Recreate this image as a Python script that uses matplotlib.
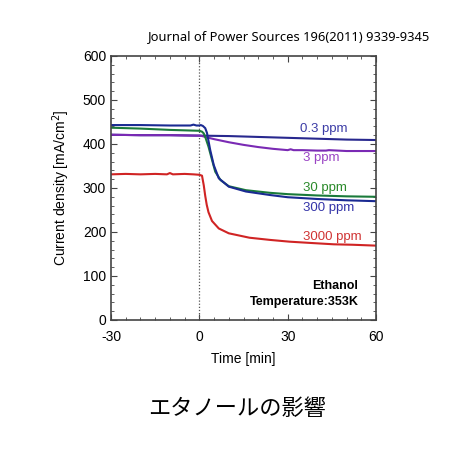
import matplotlib
matplotlib.use("Agg")
import matplotlib.pyplot as plt
from matplotlib.ticker import MultipleLocator

plt.rcParams["font.family"] = ["Liberation Sans", "DejaVu Sans"]
plt.rcParams["axes.unicode_minus"] = False

# 0.3 ppm
t_03 = [-30, -20, -10, 0, 10, 20, 30, 40, 50, 60]
j_03 = [421, 420, 420, 419, 418, 416, 414, 412, 410, 409]

# 3 ppm
t_3 = [-30, -20, -10, -2, 0, 1, 2, 5, 10, 15, 20, 25, 30, 31, 32, 35, 40, 43, 44, 50, 55, 60]
j_3 = [421, 420, 420, 419, 419, 418, 416, 411, 404, 398, 393, 389, 386, 388, 386, 386, 385, 385, 386, 384, 384, 384]

# 30 ppm
t_30 = [-30, -20, -10, 0, 0.9, 1.5, 2, 2.5, 3.1, 4.3, 5.4, 7.2, 10, 15.8, 24, 30, 40, 50, 60]
j_30 = [437, 435, 432, 430, 428, 424, 416, 406, 394, 364, 337, 318, 304, 295, 289, 286, 283, 281, 280]

# 300 ppm
t_300 = [-30, -20, -10, -3, -2, -1, 0, 0.5, 1.2, 2, 2.6, 3.7, 4.9, 6.6, 10, 15.8, 24, 30, 40, 50, 60]
j_300 = [443, 443, 442, 442, 444, 442, 442, 443, 441, 436, 425, 386, 352, 322, 303, 292, 284, 279, 275, 272, 270]

# 3000 ppm
t_3000 = [-30, -25, -20, -15, -11, -10, -9, -5, -2, 0, 0.9, 1.5, 2, 2.5, 3.1, 4.3, 6.6, 10, 17, 24, 30.6, 38, 45.7, 52, 60]
j_3000 = [331, 332, 331, 332, 331, 334, 331, 332, 331, 330, 328, 306, 282, 262, 245, 225, 208, 197, 187, 182, 178, 175, 172, 171, 169]

series = [
    ("0.3 ppm", t_03, j_03, "#28288e", "#3c3ca6", (42.3, 434)),
    ("3 ppm", t_3, j_3, "#7a2ab4", "#9a44c4", (41.3, 368)),
    ("30 ppm", t_30, j_30, "#1a7a3a", "#2a8a2a", (42.6, 300)),
    ("300 ppm", t_300, j_300, "#1a2a92", "#3434a8", (44.0, 255)),
    ("3000 ppm", t_3000, j_3000, "#d02424", "#d03434", (45.0, 189)),
]

fig = plt.figure(figsize=(4.67, 4.57), dpi=100)
ax = fig.add_axes([0.2377, 0.2998, 0.5675, 0.5777])

ax.axvline(0, color="#555555", lw=0.9, ls=(0, (1, 1.5)))
for name, t, j, lc, tc, pos in series:
    ax.plot(t, j, color=lc, lw=1.5)
    ax.text(pos[0], pos[1], name, color=tc, fontsize=9.5, ha="center", va="center")

ax.text(54, 77, "Ethanol", fontsize=9, fontweight="bold", ha="right", va="center")
ax.text(54, 41, "Temperature:353K", fontsize=9, fontweight="bold", ha="right", va="center")

ax.set_xlim(-30, 60)
ax.set_ylim(0, 600)
ax.xaxis.set_major_locator(MultipleLocator(30))
ax.xaxis.set_minor_locator(MultipleLocator(5))
ax.yaxis.set_major_locator(MultipleLocator(100))
ax.yaxis.set_minor_locator(MultipleLocator(20))
ax.tick_params(which="both", direction="in", top=True, right=True, colors="#444444",
               labelcolor="black", labelsize=10)
ax.tick_params(which="major", length=4)
ax.tick_params(which="minor", length=2)
ax.tick_params(axis="x", which="major", pad=7)
for sp in ax.spines.values():
    sp.set_color("#444444")
    sp.set_linewidth(1.2)

ax.set_xlabel("Time [min]", fontsize=10, labelpad=6)
ax.set_ylabel("Current density [mA/cm$^2$]", fontsize=10, labelpad=8)

fig.text(0.921, 0.919, "Journal of Power Sources 196(2011) 9339-9345", fontsize=9.3,
         family=["Noto Sans", "DejaVu Sans"], ha="right", va="center")
fig.text(0.508, 0.107, "エタノールの影響", fontsize=16,
         family=["Noto Sans CJK JP", "DejaVu Sans"], ha="center", va="center")

fig.savefig("out.png", dpi=100)
